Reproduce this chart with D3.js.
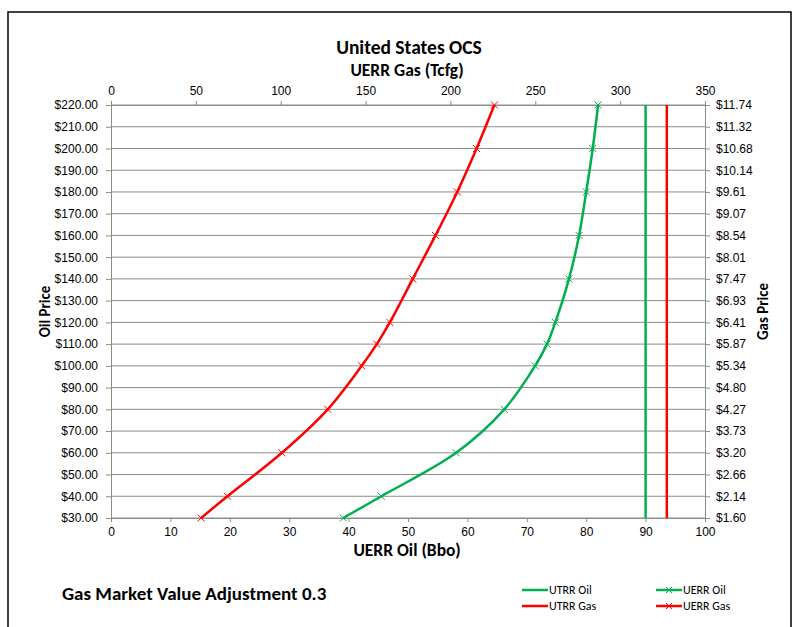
<!DOCTYPE html>
<html>
<head>
<meta charset="utf-8">
<script src="https://cdn.jsdelivr.net/npm/d3@7"></script>
<style>
  html, body { margin: 0; padding: 0; background: #fff; }
  svg { display: block; font-family: Carlito, Lato, "Open Sans", sans-serif; }
</style>
</head>
<body>
<svg id="chart" width="798" height="627"></svg>
<script>
// Oil price points (left axis) shared by both UERR series
const oilPrices = [30, 40, 60, 80, 100, 110, 120, 140, 160, 180, 200, 220];
// UERR Oil (Bbo), bottom axis
const uerrOil = [39.1, 45.5, 58.1, 66.2, 71.4, 73.4, 74.8, 77.1, 78.8, 80.0, 81.1, 82.0];
// UERR Gas (Tcfg), top axis
const uerrGas = [53.1, 68.6, 100.7, 127.7, 147.7, 156.6, 164.3, 177.8, 191.2, 204.0, 215.4, 225.9];
// Technically recoverable totals
const utrrOil = 90;      // Bbo
const utrrGas = 327.5;   // Tcfg
// Axis ticks
const oilPriceTicks = d3.range(30, 221, 10);
const gasPriceLabels = ["$1.60", "$2.14", "$2.66", "$3.20", "$3.73", "$4.27", "$4.80", "$5.34", "$5.87", "$6.41",
                        "$6.93", "$7.47", "$8.01", "$8.54", "$9.07", "$9.61", "$10.14", "$10.68", "$11.32", "$11.74"];
const oilTicks = d3.range(0, 101, 10);
const gasTicks = d3.range(0, 351, 50);

const GREEN = "#00B050", RED = "#FF0000", GRID = "#8c8c8c";

const svg = d3.select("#chart");
const L = 111, R = 705, T = 105, B = 518;

// outer frame
svg.append("rect").attr("x", 8).attr("y", 12).attr("width", 783).attr("height", 640)
  .attr("fill", "none").attr("stroke", "#000").attr("stroke-width", 1.5);

const xOil = d3.scaleLinear().domain([0, 100]).range([L, R]);
const xGas = d3.scaleLinear().domain([0, 350]).range([L, R]);
const yOil = d3.scaleLinear().domain([30, 220]).range([B, T]);
const yGas = d3.scalePoint().domain(gasPriceLabels).range([B, T]);

// horizontal gridlines
svg.append("g").selectAll("line").data(oilPriceTicks).join("line")
  .attr("x1", L).attr("x2", R)
  .attr("y1", d => yOil(d)).attr("y2", d => yOil(d))
  .attr("stroke", GRID).attr("stroke-width", 1);

function styleAxis(g) {
  g.select(".domain").attr("stroke", GRID);
  g.selectAll(".tick line").attr("stroke", GRID);
  g.selectAll("text").attr("fill", "#000").attr("font-size", 12);
}

svg.append("g").attr("transform", `translate(${L},0)`)
  .call(d3.axisLeft(yOil).tickValues(oilPriceTicks).tickFormat(d => "$" + d.toFixed(2)).tickSizeOuter(0).tickSize(5).tickPadding(8))
  .call(styleAxis);
svg.append("g").attr("transform", `translate(${R},0)`)
  .call(d3.axisRight(yGas).tickSizeOuter(0).tickSize(5).tickPadding(6))
  .call(styleAxis);
svg.append("g").attr("transform", `translate(0,${B})`)
  .call(d3.axisBottom(xOil).tickValues(oilTicks).tickSizeOuter(0).tickSize(4).tickPadding(5))
  .call(styleAxis);
svg.append("g").attr("transform", `translate(0,${T})`)
  .call(d3.axisTop(xGas).tickValues(gasTicks).tickSizeOuter(0).tickSize(4).tickPadding(6))
  .call(styleAxis);

// UTRR vertical lines
svg.append("line").attr("x1", xOil(utrrOil)).attr("x2", xOil(utrrOil)).attr("y1", T).attr("y2", B)
  .attr("stroke", GREEN).attr("stroke-width", 2.5);
svg.append("line").attr("x1", xGas(utrrGas)).attr("x2", xGas(utrrGas)).attr("y1", T).attr("y2", B)
  .attr("stroke", RED).attr("stroke-width", 2.5);

function xMark(g, cx, cy, color, s) {
  g.append("path").attr("d", `M${cx - s},${cy - s}L${cx + s},${cy + s}M${cx - s},${cy + s}L${cx + s},${cy - s}`)
    .attr("stroke", color).attr("stroke-width", 1).attr("fill", "none");
}

// UERR curves
const oilPts = oilPrices.map((p, i) => [xOil(uerrOil[i]), yOil(p)]);
const gasPts = oilPrices.map((p, i) => [xGas(uerrGas[i]), yOil(p)]);
const line = d3.line().curve(d3.curveCatmullRom.alpha(0.5));
svg.append("path").attr("d", line(oilPts)).attr("fill", "none").attr("stroke", GREEN).attr("stroke-width", 2.5);
svg.append("path").attr("d", line(gasPts)).attr("fill", "none").attr("stroke", RED).attr("stroke-width", 2.5);
const mk = svg.append("g");
oilPts.forEach(p => xMark(mk, p[0], p[1], GREEN, 3.5));
gasPts.forEach(p => xMark(mk, p[0], p[1], RED, 3.5));

// titles
const mid = (L + R) / 2;
svg.append("text").attr("x", mid + 1).attr("y", 54).attr("text-anchor", "middle")
  .attr("font-size", 19.5).attr("font-weight", "bold").text("United States OCS");
svg.append("text").attr("x", mid - 1).attr("y", 76).attr("text-anchor", "middle")
  .attr("font-size", 17.5).attr("font-weight", "bold").text("UERR Gas (Tcfg)");
svg.append("text").attr("x", mid - 1).attr("y", 556).attr("text-anchor", "middle")
  .attr("font-size", 17.5).attr("font-weight", "bold").text("UERR Oil (Bbo)");
svg.append("text").attr("transform", `translate(50,${(T + B) / 2}) rotate(-90)`).attr("text-anchor", "middle")
  .attr("font-size", 15).attr("font-weight", "bold").text("Oil Price");
svg.append("text").attr("transform", `translate(768,${(T + B) / 2}) rotate(-90)`).attr("text-anchor", "middle")
  .attr("font-size", 15).attr("font-weight", "bold").text("Gas Price");
svg.append("text").attr("x", 62).attr("y", 600)
  .attr("font-size", 19).attr("font-weight", "bold").text("Gas Market Value Adjustment 0.3");

// legend
const legend = [
  { label: "UTRR Oil", color: GREEN, marker: false, x: 522, y: 590 },
  { label: "UTRR Gas", color: RED, marker: false, x: 522, y: 606 },
  { label: "UERR Oil", color: GREEN, marker: true, x: 656, y: 590 },
  { label: "UERR Gas", color: RED, marker: true, x: 656, y: 606 }
];
const lg = svg.append("g");
legend.forEach(d => {
  lg.append("line").attr("x1", d.x).attr("x2", d.x + 26).attr("y1", d.y).attr("y2", d.y)
    .attr("stroke", d.color).attr("stroke-width", 2.5);
  if (d.marker) xMark(lg, d.x + 13, d.y, d.color, 3);
  lg.append("text").attr("x", d.x + 27).attr("y", d.y + 4).attr("font-size", 12).text(d.label);
});
</script>
</body>
</html>
